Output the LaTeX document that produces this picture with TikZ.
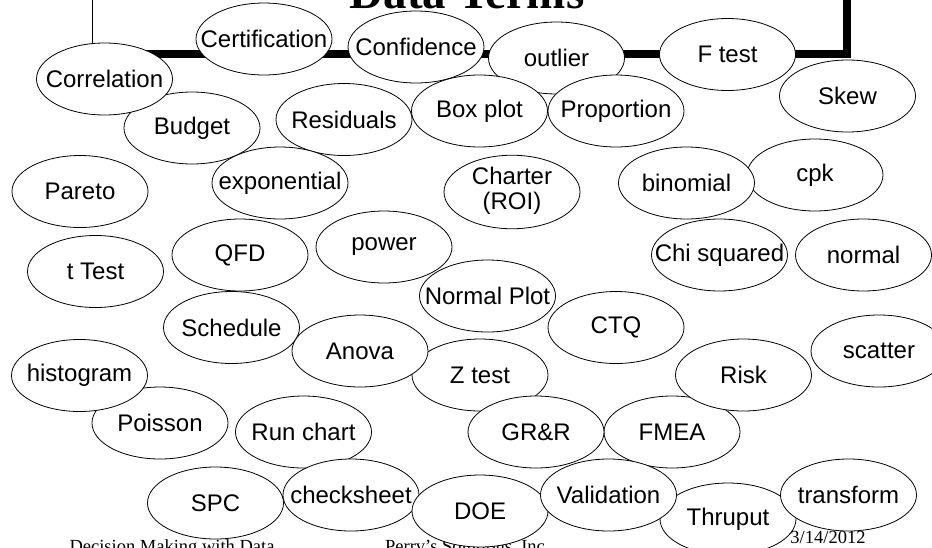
\documentclass[tikz,border=0pt]{standalone}
\usepackage{fontspec}
\setmainfont{Liberation Sans}
\newfontfamily\seriffont{Liberation Serif}
\usetikzlibrary{shapes.geometric}
\newcommand{\T}[1]{\makebox[0pt]{#1}}
\tikzset{
  oval/.style={ellipse, draw=black, line width=0.8pt, fill=white,
    minimum width=136pt, minimum height=72pt, inner sep=0pt,
    font=\fontsize{24}{27}\selectfont},
  foot/.style={font=\seriffont\fontsize{18.5}{20}\selectfont, anchor=base, inner sep=0pt},
}
\begin{document}
\begin{tikzpicture}[x=1pt, y=-1pt]
\useasboundingbox (0,0) rectangle (932,547);
\clip (0,0) rectangle (932,547);
% title frame with shadow
\fill[black] (100,-30) rectangle (851,58);
\draw[line width=0.8pt, fill=white] (92.7,-30) rectangle (843,50);
\node[anchor=base, inner sep=0pt, font=\seriffont\bfseries\fontsize{47}{50}\selectfont] (title) at (467,8) {Data Terms};
% footer
\node[foot] (f1) at (172,552) {Decision Making with Data};
\node[foot] (f2) at (465,552) {Perry’s Solutions, Inc};
\node[foot] (f3) at (828,543) {3/14/2012};
% ovals
\node[oval] (budget) at (192,128) {\T{Budget}};
\node[oval] (correlation) at (104.5,79) {\T{Correlation}};
\node[oval] (certification) at (264,39) {\T{Certification}};
\node[oval] (confidence) at (416,47) {\T{Confidence}};
\node[oval] (outlier) at (556.5,58) {\T{outlier}};
\node[oval] (boxplot) at (479.5,111) {\T{Box plot}};
\node[oval] (proportion) at (616,111) {\T{Proportion}};
\node[oval] (ftest) at (727.5,54.5) {\T{F test}};
\node[oval] (skew) at (847.5,96) {\T{Skew}};
\node[oval] (residuals) at (344,119.5) {\T{Residuals}};
\node[oval] (charter) at (512,192) {\T{\begin{tabular}{@{}c@{}}Charter\\[-2pt](ROI)\end{tabular}}};
\node[oval] (exponential) at (280,183) {\T{exponential}};
\node[oval] (pareto) at (80,191.5) {\T{Pareto}};
\node[oval] (cpk) at (815,175) {\T{cpk}};
\node[oval] (binomial) at (686.5,183) {\T{binomial}};
\node[oval] (chisq) at (719.5,255) {\T{Chi squared}};
\node[oval] (normal) at (863.5,255) {\T{normal}};
\node[oval] (ttest) at (95.5,271.5) {\T{t Test}};
\node[oval] (qfd) at (240,255) {\T{QFD}};
\node[oval] (power) at (384,247) {\T{power}};
\node[oval] (normalplot) at (487.5,296) {\T{Normal Plot}};
\node[oval] (schedule) at (231.5,327.5) {\T{Schedule}};
\node[oval] (ztest) at (480,375) {\T{Z test}};
\node[oval] (anova) at (360,351) {\T{Anova}};
\node[oval] (ctq) at (616,327.5) {\T{CTQ}};
\node[oval] (poisson) at (160,423) {\T{Poisson}};
\node[oval] (histogram) at (79.5,375.5) {\T{histogram}};
\node[oval] (runchart) at (303.5,432) {\T{Run chart}};
\node[oval] (fmea) at (672,432) {\T{FMEA}};
\node[oval] (risk) at (743.5,375) {\T{Risk}};
\node[oval] (grr) at (536,432) {\T{GR\&R}};
\node[oval] (scatter) at (879,351) {\T{scatter}};
\node[oval] (spc) at (215.5,503) {\T{SPC}};
\node[oval] (checksheet) at (351,495) {\T{checksheet}};
\node[oval] (doe) at (480,511) {\T{DOE}};
\node[oval] (thruput) at (728,519) {\T{Thruput}};
\node[oval] (validation) at (608.5,495) {\T{Validation}};
\node[oval] (transform) at (848.5,495) {\T{transform}};
\end{tikzpicture}
\end{document}
